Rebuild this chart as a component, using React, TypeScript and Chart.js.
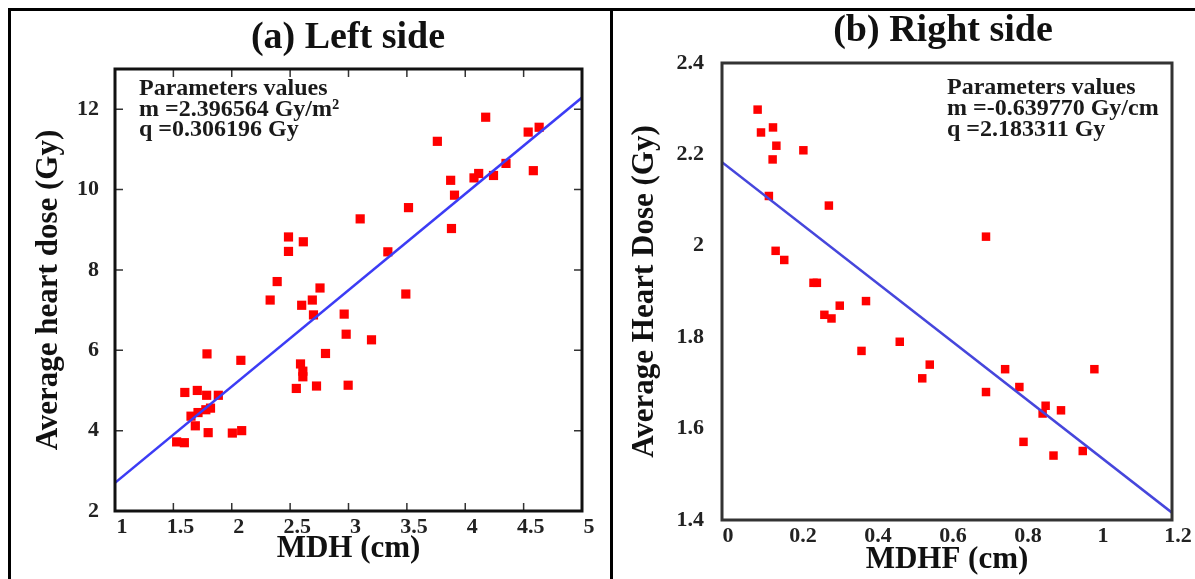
import React, { useEffect, useRef } from "react";
import { Chart, registerables } from "chart.js";

Chart.register(...registerables);

// ---------- data: left panel ----------
const leftX = [1.528, 1.594, 1.598, 1.705, 1.651, 1.711, 1.688, 1.788, 1.785, 1.818, 1.778, 1.798, 1.885, 2.005, 2.085, 2.078, 2.329, 2.389, 2.486, 2.486, 2.613, 2.553, 2.589, 2.609, 2.609, 2.599, 2.69, 2.7, 2.756, 2.726, 2.803, 2.963, 2.98, 2.997, 3.1, 3.197, 3.337, 3.491, 3.514, 3.761, 3.875, 3.882, 3.908, 4.075, 4.115, 4.175, 4.242, 4.349, 4.539, 4.633, 4.583];
const leftY = [3.72, 3.7, 4.95, 5.0, 4.36, 4.45, 4.12, 5.91, 4.88, 4.56, 4.52, 3.95, 4.88, 3.94, 4.0, 5.75, 7.25, 7.71, 8.82, 8.46, 8.7, 5.05, 5.66, 5.48, 5.34, 7.12, 7.25, 6.88, 7.55, 5.11, 5.92, 6.9, 6.4, 5.13, 9.27, 6.26, 8.45, 7.4, 9.55, 11.2, 10.23, 9.03, 9.86, 10.29, 10.4, 11.8, 10.35, 10.65, 11.43, 11.55, 10.47];
const leftFitX = [1, 5];
const leftFitY = [2.703, 12.289];
const leftXTicks = [1, 1.5, 2, 2.5, 3, 3.5, 4, 4.5, 5];
const leftXTickLabels = ["1", "1.5", "2", "2.5", "3", "3.5", "4", "4.5", "5"];
const leftYTicks = [2, 4, 6, 8, 10, 12];
const leftYTickLabels = ["2", "4", "6", "8", "10", "12"];
const leftTitle = "(a) Left side";
const leftXTitle = "MDH (cm)";
const leftYTitle = "Average heart dose (Gy)";
const leftParams = ["Parameters values", "m =2.396564 Gy/m\u00B2", "q =0.306196 Gy"];

// ---------- data: right panel ----------
const rightX = [0.095, 0.104, 0.136, 0.145, 0.135, 0.217, 0.125, 0.285, 0.143, 0.166, 0.244, 0.253, 0.273, 0.292, 0.314, 0.384, 0.372, 0.474, 0.554, 0.534, 0.704, 0.704, 0.755, 0.793, 0.804, 0.855, 0.863, 0.904, 0.884, 0.962, 0.993];
const rightY = [2.298, 2.248, 2.259, 2.219, 2.189, 2.209, 2.109, 2.088, 1.989, 1.969, 1.919, 1.919, 1.849, 1.841, 1.869, 1.879, 1.77, 1.79, 1.74, 1.71, 2.02, 1.68, 1.73, 1.691, 1.571, 1.633, 1.65, 1.64, 1.541, 1.551, 1.73];
const rightFitX = [0, 1.2];
const rightFitY = [2.183, 1.416];
const rightXTicks = [0, 0.2, 0.4, 0.6, 0.8, 1, 1.2];
const rightXTickLabels = ["0", "0.2", "0.4", "0.6", "0.8", "1", "1.2"];
const rightYTicks = [1.4, 1.6, 1.8, 2, 2.2, 2.4];
const rightYTickLabels = ["1.4", "1.6", "1.8", "2", "2.2", "2.4"];
const rightTitle = "(b) Right side";
const rightXTitle = "MDHF (cm)";
const rightYTitle = "Average Heart Dose (Gy)";
const rightParams = ["Parameters values", "m =-0.639770 Gy/cm", "q =2.183311 Gy"];

const FAMILY = '"Liberation Serif", "Times New Roman", serif';

const decorPlugin = {
  id: "panelDecor",
  afterDraw(chart: any, _args: any, opts: any) {
    const { ctx, chartArea: ca } = chart;
    ctx.save();
    // inward ticks
    if (opts.innerTicks) {
      const xs = chart.scales.x;
      const ys = chart.scales.y;
      const L = opts.tickLen;
      ctx.strokeStyle = opts.tickColor;
      ctx.lineWidth = 1.5;
      ctx.beginPath();
      xs.ticks.forEach((t: any) => {
        const px = xs.getPixelForValue(t.value);
        if (px <= ca.left + 2 || px >= ca.right - 2) return;
        ctx.moveTo(px, ca.bottom);
        ctx.lineTo(px, ca.bottom - L);
        ctx.moveTo(px, ca.top);
        ctx.lineTo(px, ca.top + L);
      });
      ys.ticks.forEach((t: any) => {
        const py = ys.getPixelForValue(t.value);
        if (py <= ca.top + 2 || py >= ca.bottom - 2) return;
        ctx.moveTo(ca.left, py);
        ctx.lineTo(ca.left + L, py);
        ctx.moveTo(ca.right, py);
        ctx.lineTo(ca.right - L, py);
      });
      ctx.stroke();
    }
    // frame of plot
    ctx.strokeStyle = opts.borderColor;
    ctx.lineWidth = opts.borderWidth;
    ctx.strokeRect(ca.left, ca.top, ca.right - ca.left, ca.bottom - ca.top);
    // title
    ctx.fillStyle = "#111";
    ctx.textAlign = "center";
    ctx.textBaseline = "alphabetic";
    ctx.font = `bold ${opts.titleSize}px ${FAMILY}`;
    ctx.fillText(opts.title, opts.titleX, opts.titleY);
    // parameters
    ctx.textAlign = "left";
    ctx.fillStyle = "#1a1a1a";
    ctx.font = `bold ${opts.noteSize}px ${FAMILY}`;
    opts.notes.forEach((line: string, i: number) => {
      ctx.fillText(line, opts.noteX, opts.noteY + i * opts.noteGap);
    });
    ctx.restore();
  },
};

function makeConfig(p: any): any {
  const tickFont = { family: FAMILY, size: 22, weight: "bold" };
  const titleFont = { family: FAMILY, size: 31, weight: "bold" };
  return {
    type: "scatter",
    data: {
      datasets: [
        {
          data: p.fitX.map((x: number, i: number) => ({ x, y: p.fitY[i] })),
          showLine: true,
          borderColor: p.lineColor,
          borderWidth: 2.5,
          pointRadius: 0,
          fill: false,
        },
        {
          data: p.xs.map((x: number, i: number) => ({ x, y: p.ys[i] })),
          pointStyle: "rect",
          pointRadius: p.pointRadius,
          backgroundColor: "#ff0000",
          borderWidth: 0,
        },
      ],
    },
    options: {
      responsive: false,
      animation: false,
      events: [],
      layout: { padding: p.padding },
      plugins: {
        legend: { display: false },
        tooltip: { enabled: false },
        panelDecor: p.decor,
      },
      scales: {
        x: {
          type: "linear",
          min: p.xMin,
          max: p.xMax,
          afterBuildTicks: (s: any) => {
            s.ticks = p.xTicks.map((v: number) => ({ value: v }));
          },
          afterFit: (s: any) => {
            s.height = p.xAxisHeight;
          },
          ticks: {
            callback: (_v: any, i: number) => p.xTickLabels[i],
            font: tickFont,
            color: "#222",
            padding: p.xTickPad,
            labelOffset: p.xLabelOffset,
            autoSkip: false,
            maxRotation: 0,
          },
          grid: { display: false },
          border: { display: false },
          title: {
            display: true,
            text: p.xTitle,
            font: titleFont,
            color: "#111",
            padding: { top: 0, bottom: p.xTitlePad },
          },
        },
        y: {
          type: "linear",
          min: p.yMin,
          max: p.yMax,
          afterBuildTicks: (s: any) => {
            s.ticks = p.yTicks.map((v: number) => ({ value: v }));
          },
          afterFit: (s: any) => {
            s.width = p.yAxisWidth;
          },
          ticks: {
            callback: (_v: any, i: number) => p.yTickLabels[i],
            font: tickFont,
            color: "#222",
            padding: p.yTickPad,
            autoSkip: false,
          },
          grid: { display: false },
          border: { display: false },
          title: {
            display: true,
            text: p.yTitle,
            font: titleFont,
            color: "#111",
            padding: { top: p.yTitlePad, bottom: 0 },
          },
        },
      },
    },
    plugins: [decorPlugin],
  };
}

export default function App() {
  const leftRef = useRef<HTMLCanvasElement>(null);
  const rightRef = useRef<HTMLCanvasElement>(null);

  useEffect(() => {
    const c1 = new Chart(
      leftRef.current as HTMLCanvasElement,
      makeConfig({
        xs: leftX,
        ys: leftY,
        fitX: leftFitX,
        fitY: leftFitY,
        lineColor: "#3c3cf5",
        pointRadius: 6.5,
        padding: { left: 0, top: 69, right: 28, bottom: 0 },
        xMin: 1,
        xMax: 5,
        yMin: 2,
        yMax: 13,
        xTicks: leftXTicks,
        xTickLabels: leftXTickLabels,
        yTicks: leftYTicks,
        yTickLabels: leftYTickLabels,
        xAxisHeight: 68,
        yAxisWidth: 115,
        xLabelOffset: 7,
        xTickPad: -5,
        yTickPad: 8,
        xTitle: leftXTitle,
        yTitle: leftYTitle,
        xTitlePad: 11,
        yTitlePad: 30,
        decor: {
          innerTicks: true,
          tickLen: 8,
          tickColor: "#333",
          borderColor: "#111",
          borderWidth: 3,
          title: leftTitle,
          titleSize: 38,
          titleX: 348,
          titleY: 48,
          notes: leftParams,
          noteSize: 24,
          noteX: 139,
          noteY: 95,
          noteGap: 20.7,
        },
      })
    );
    const c2 = new Chart(
      rightRef.current as HTMLCanvasElement,
      makeConfig({
        xs: rightX,
        ys: rightY,
        fitX: rightFitX,
        fitY: rightFitY,
        lineColor: "#4646dc",
        pointRadius: 6,
        padding: { left: 0, top: 63, right: 23, bottom: 0 },
        xMin: 0,
        xMax: 1.2,
        yMin: 1.4,
        yMax: 2.4,
        xTicks: rightXTicks,
        xTickLabels: rightXTickLabels,
        yTicks: rightYTicks,
        yTickLabels: rightYTickLabels,
        xAxisHeight: 59,
        yAxisWidth: 109,
        xLabelOffset: 6,
        xTickPad: -5,
        yTickPad: 10,
        xTitle: rightXTitle,
        yTitle: rightYTitle,
        xTitlePad: 0,
        yTitlePad: 13,
        decor: {
          innerTicks: false,
          tickLen: 8,
          tickColor: "#333",
          borderColor: "#333",
          borderWidth: 3,
          title: rightTitle,
          titleSize: 38,
          titleX: 330,
          titleY: 41,
          notes: rightParams,
          noteSize: 24,
          noteX: 334,
          noteY: 93.5,
          noteGap: 21.3,
        },
      })
    );
    return () => {
      c1.destroy();
      c2.destroy();
    };
  }, []);

  const line = (l: number, t: number, w: number, h: number) => (
    <div style={{ position: "absolute", left: l, top: t, width: w, height: h, background: "#000" }} />
  );

  return (
    <div
      style={{
        position: "fixed",
        left: 0,
        top: 0,
        width: 1195,
        height: 579,
        background: "#fff",
        overflow: "hidden",
      }}
    >
      <canvas
        ref={leftRef}
        width={610}
        height={579}
        style={{ position: "absolute", left: 0, top: 0, width: 610, height: 579 }}
      />
      <canvas
        ref={rightRef}
        width={582}
        height={579}
        style={{ position: "absolute", left: 613, top: 0, width: 582, height: 579 }}
      />
      {line(8, 8, 1187, 3)}
      {line(8, 8, 3, 571)}
      {line(610, 8, 3, 571)}
    </div>
  );
}
